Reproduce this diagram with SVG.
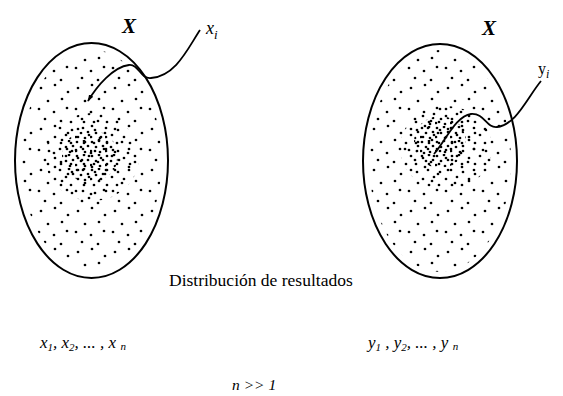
<svg xmlns="http://www.w3.org/2000/svg" width="563" height="396" viewBox="0 0 563 396">
<style>
.ell{fill:none;stroke:#000;stroke-width:2}
.con{fill:none;stroke:#000;stroke-width:1.8}
.t{font-family:"Liberation Serif","Times New Roman",serif;fill:#000}
.it{font-style:italic}
.bx{font-weight:bold;font-style:italic;font-size:21px}
</style>
<defs>
<pattern id="p1" patternUnits="userSpaceOnUse" width="37" height="41">
<g fill="#000">
<circle cx="4" cy="6" r="1.35"/><circle cx="18" cy="3" r="1.35"/><circle cx="31" cy="10" r="1.35"/>
<circle cx="11" cy="19" r="1.35"/><circle cx="25" cy="17" r="1.35"/><circle cx="2" cy="27" r="1.35"/>
<circle cx="17" cy="30" r="1.35"/><circle cx="30" cy="26" r="1.35"/><circle cx="8" cy="37" r="1.35"/>
<circle cx="24" cy="39" r="1.35"/>
</g>
</pattern>
<pattern id="p2" patternUnits="userSpaceOnUse" width="23" height="21">
<g fill="#000">
<circle cx="3" cy="4" r="1.35"/><circle cx="14" cy="2" r="1.35"/><circle cx="9" cy="11" r="1.35"/>
<circle cx="20" cy="9" r="1.35"/><circle cx="2" cy="17" r="1.35"/><circle cx="15" cy="17" r="1.35"/>
</g>
</pattern>
<pattern id="p3" patternUnits="userSpaceOnUse" width="15" height="14">
<g fill="#000">
<circle cx="2" cy="2" r="1.35"/><circle cx="9" cy="1" r="1.35"/><circle cx="6" cy="7" r="1.35"/>
<circle cx="13" cy="6" r="1.35"/><circle cx="1" cy="11" r="1.35"/><circle cx="10" cy="12" r="1.35"/>
</g>
</pattern>
<marker id="ah" viewBox="0 0 10 10" refX="9" refY="5" markerWidth="7" markerHeight="7" orient="auto" markerUnits="userSpaceOnUse">
<path d="M0,1.5 L10,5 L0,8.5 z" fill="#000"/>
</marker>
</defs>

<g id="set-x">
<ellipse cx="91.5" cy="160.5" rx="70" ry="111" fill="url(#p1)"/>
<ellipse cx="92" cy="157" rx="47" ry="44" fill="url(#p2)"/>
<ellipse cx="90" cy="156" rx="28" ry="26" fill="url(#p3)"/>
<ellipse class="ell" cx="91.5" cy="160.5" rx="76.5" ry="117.5"/>
<text class="t bx" x="122" y="33">X</text>
</g>

<g id="set-y">
<ellipse cx="440" cy="161" rx="71" ry="111" fill="url(#p1)"/>
<ellipse cx="446" cy="148" rx="46" ry="42" fill="url(#p2)"/>
<ellipse cx="440" cy="142" rx="26" ry="26" fill="url(#p3)"/>
<ellipse class="ell" cx="440" cy="161" rx="77" ry="117"/>
<text class="t bx" x="482" y="35">X</text>
</g>

<g id="connectors">
<path class="con" d="M200,30 C188,48 176,76 151,78 C140,79 139,64 129,65 C113,67 97,86 88,101" marker-end="url(#ah)"/>
<path class="con" d="M541,81 C527,98 516,125 497,127 C486,128 485,113 471,114 C456,116 446,140 434,154"/>
</g>

<g id="labels">
<text class="t it" x="206" y="34" font-size="18">x<tspan font-size="13" dy="5">i</tspan></text>
<text class="t" x="538" y="74" font-size="16">y<tspan class="it" font-size="12" dy="4">i</tspan></text>
<text class="t" x="169" y="286" font-size="17.5">Distribución de resultados</text>
<text class="t it" x="40" y="348" font-size="17">x<tspan font-size="11" dy="3">1</tspan><tspan dy="-3">, x</tspan><tspan font-size="11" dy="3">2</tspan><tspan dy="-3">, ... , x </tspan><tspan font-size="11" dy="2">n</tspan></text>
<text class="t it" x="368" y="348" font-size="17">y<tspan font-size="11" dy="3">1</tspan><tspan dy="-3"> , y</tspan><tspan font-size="11" dy="3">2</tspan><tspan dy="-3">, ... , y </tspan><tspan font-size="11" dy="2">n</tspan></text>
<text class="t it" x="232" y="390" font-size="15.5">n &gt;&gt; 1</text>
</g>
</svg>
